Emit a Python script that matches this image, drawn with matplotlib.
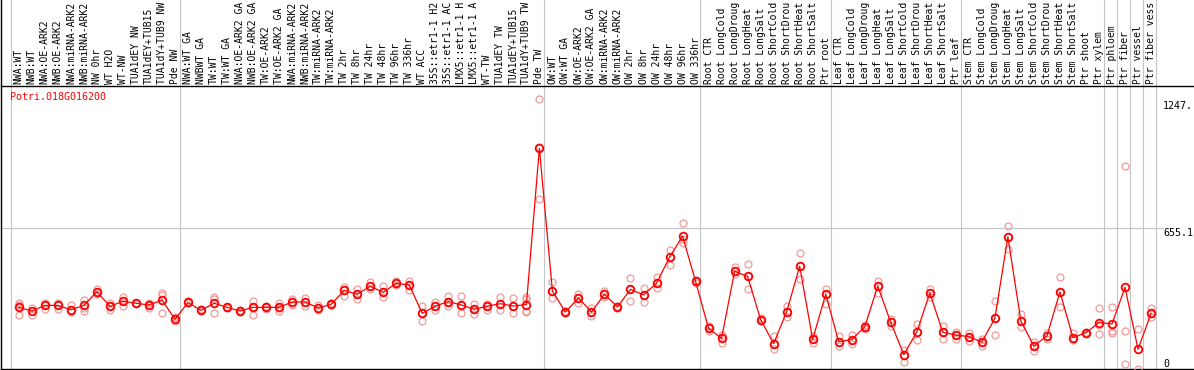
# expression profile of one gene across samples

import matplotlib
matplotlib.use('Agg')
import matplotlib.pyplot as plt
import numpy as np

gene = 'Potri.018G016200'

# sample names as far as they are shown in the header
labels = [
    'NWA:WT', 'NWB:WT', 'NWA:OE-ARK2', 'NWB:OE-ARK2', 'NWA:miRNA-ARK2', 'NWB:miRNA-ARK2',
    'NW 0hr', 'WT H2O', 'WT-NW', 'TUA1dEY NW', 'TUA1dEY+TUB15', 'TUA1dY+TUB9 NW', 'Pde NW',
    'NWA:WT GA', 'NWBWT GA', 'TW:WT', 'TW:WT GA', 'NWA:OE-ARK2 GA', 'NWB:OE-ARK2 GA',
    'TW:OE-ARK2', 'TW:OE-ARK2 GA', 'NWA:miRNA-ARK2', 'NWB:miRNA-ARK2', 'TW:miRNA-ARK2',
    'TW:miRNA-ARK2', 'TW 2hr', 'TW 8hr', 'TW 24hr', 'TW 48hr', 'TW 96hr', 'TW 336hr', 'WT ACC',
    '35S::etr1-1 H2', '35S::etr1-1 AC', 'LMX5::etr1-1 H', 'LMX5::etr1-1 A', 'WT-TW',
    'TUA1dEY TW', 'TUA1dEY+TUB15', 'TUA1dY+TUB9 TW', 'Pde TW',
    'OW:WT', 'OW:WT GA', 'OW:OE-ARK2', 'OW:OE-ARK2 GA', 'OW:miRNA-ARK2', 'OW:miRNA-ARK2',
    'OW 2hr', 'OW 8hr', 'OW 24hr', 'OW 48hr', 'OW 96hr', 'OW 336hr',
    'Root CTR', 'Root LongCold', 'Root LongDroug', 'Root LongHeat', 'Root LongSalt',
    'Root ShortCold', 'Root ShortDrou', 'Root ShortHeat', 'Root ShortSalt', 'Ptr root',
    'Leaf CTR', 'Leaf LongCold', 'Leaf LongDroug', 'Leaf LongHeat', 'Leaf LongSalt',
    'Leaf ShortCold', 'Leaf ShortDrou', 'Leaf ShortHeat', 'Leaf ShortSalt', 'Ptr leaf',
    'Stem CTR', 'Stem LongCold', 'Stem LongDroug', 'Stem LongHeat', 'Stem LongSalt',
    'Stem ShortCold', 'Stem ShortDrou', 'Stem ShortHeat', 'Stem ShortSalt', 'Ptr shoot',
    'Ptr xylem', 'Ptr phloem', 'Ptr fiber', 'Ptr vessel', 'Ptr fiber vess',
]

# first sample index of every group (plus the end)
group_starts = [0, 13, 41, 53, 63, 73, 84, 85, 86, 87, 88]

means = [
    287, 270, 296, 296, 276, 296, 360, 292, 315, 306, 298, 321, 231,
    310, 273, 306, 287, 270, 287, 287, 287, 312, 312, 284, 301, 366, 348, 385, 357,
    399, 391, 259, 293, 314, 298, 278, 293, 304, 293, 300, 1027,
    363, 265, 331, 265, 348, 289, 371, 345, 399, 520, 619, 408,
    189, 143, 455, 431, 230, 118, 267, 478, 138, 348,
    127, 137, 196, 386, 217, 67, 172, 354, 171, 158,
    151, 126, 236, 615, 222, 107, 154, 359, 146, 169, 216,
    210, 380, 92, 259,
]

reps = [
    [309, 296, 253], [284, 270, 251], [306, 296, 281], [306, 296, 281], [296, 275, 267],
    [321, 282, 272], [371, 360, 349], [306, 293, 275], [334, 315, 293], [309, 306, 303],
    [309, 298, 284], [352, 343, 259], [241, 231, 222],
    [315, 310, 306], [278, 273, 269], [337, 324, 259], [290, 287, 284], [275, 270, 265],
    [318, 287, 253], [293, 287, 281], [309, 282, 270], [324, 312, 298], [329, 312, 295],
    [300, 284, 275], [306, 301, 296], [380, 366, 341], [372, 348, 327], [407, 385, 371],
    [386, 357, 337], [410, 399, 391], [408, 391, 368], [295, 259, 222], [310, 293, 275],
    [340, 314, 293], [340, 298, 259], [304, 278, 256], [303, 293, 275], [337, 304, 273],
    [329, 293, 259], [337, 327, 272, 265], [1255, 1035, 791],
    [404, 363, 332], [269, 265, 262], [348, 331, 306], [282, 265, 247], [363, 348, 337],
    [293, 289, 284], [425, 371, 315], [379, 345, 310], [427, 399, 379], [554, 520, 483],
    [678, 604, 585], [414, 408, 402],
    [202, 189, 179], [158, 143, 120], [473, 455, 442], [489, 431, 371], [236, 230, 225],
    [154, 118, 95], [295, 267, 244], [539, 478, 419], [155, 138, 120], [371, 348, 303],
    [154, 127, 107], [158, 137, 115], [205, 196, 186], [411, 386, 352], [231, 217, 202],
    [89, 67, 34], [210, 172, 134], [371, 354, 337], [200, 171, 138], [174, 158, 141],
    [169, 151, 130], [138, 126, 109], [317, 236, 158], [664, 615, 557], [256, 222, 197],
    [124, 107, 84], [169, 154, 141], [427, 359, 289], [166, 146, 135], [174, 169, 163],
    [282, 203, 161],
    [287, 175, 166], [943, 175, 23], [185, 0], [284, 259, 241],
]

ytick_vals = [0, 655.1, 1247]
ytick_text = ['0', '655.1', '1247.']

mono = 'DejaVu Sans Mono'
grey = '#c4c4c4'

fig = plt.figure(figsize=(11.94, 3.70), dpi=100)
ax = fig.add_axes([1 / 1194, 1 / 370, 1155 / 1194, 283 / 370])

x = np.arange(len(means))
for i, r in enumerate(reps):
    ax.plot([i] * len(r), r, 'o', ms=5, mfc='none', mec='#f09a9a', mew=0.9, zorder=3)
ax.plot(x, means, '-', color='red', lw=0.9, zorder=4)
ax.plot(x, means, 'o', ms=5.5, mfc='none', mec='red', mew=1.3, zorder=5)

ax.set_xlim(-1.37, 87.38)
ax.set_ylim(0, 1317.5)

# sample names on top, rotated
ax.xaxis.tick_top()
ax.set_xticks(x)
ax.set_xticklabels(labels, rotation=90, fontsize=7.0, family=mono)
ax.tick_params(axis='x', length=0, pad=1.5)
ax.set_yticks([])
for s in ax.spines.values():
    s.set_visible(False)

# group separators run through the header too
for b in group_starts:
    ax.axvline(b - 0.63, ymin=0, ymax=1.31, color=grey, lw=0.8, clip_on=False, zorder=1)
ax.axhline(655.1, xmin=0, xmax=1.006, color=grey, lw=0.8, clip_on=False, zorder=1)

# frame
ax.axhline(0, xmin=0, xmax=1.035, color='black', lw=1, clip_on=False)
ax.axhline(1317.5, xmin=0, xmax=1.035, color='black', lw=1, clip_on=False)
ax.axvline(-1.37, ymin=0, ymax=1.31, color='black', lw=1, clip_on=False)

for v, t in zip(ytick_vals, ytick_text):
    ax.text(1.0062, v, t, transform=ax.get_yaxis_transform(), ha='left',
            va='top' if v > 0 else 'bottom', fontsize=7.2, family=mono)

ax.text(0.0078, 0.949, gene, transform=ax.transAxes, color='red', va='baseline',
        fontsize=7.2, family=mono)

fig.savefig('out.png', dpi=100)
